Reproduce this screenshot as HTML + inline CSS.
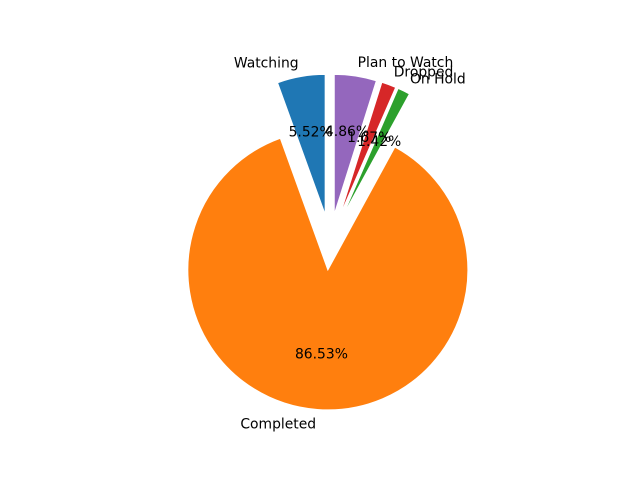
<!DOCTYPE html>
<html><head><meta charset="utf-8"><style>
html,body{margin:0;padding:0;background:#fff;}
svg text{font-family:"DejaVu Sans","Liberation Sans",sans-serif;font-size:13.9px;fill:#000;}
</style></head><body>
<svg id="chart" width="640" height="480" viewBox="0 0 640 480" xmlns="http://www.w3.org/2000/svg">
<rect width="640" height="480" fill="#fff"/>
</svg>
<script>
const categories = ["Watching", "Completed", "On Hold", "Dropped", "Plan to Watch"];
const values = [5.52, 86.53, 1.42, 1.67, 4.86];
const explode = [0.2, 0.2, 0.2, 0.2, 0.2];
const colors = ["#1f77b4", "#ff7f0e", "#2ca02c", "#d62728", "#9467bd"];

const svg = document.getElementById('chart');
const NS = 'http://www.w3.org/2000/svg';
const cx = 330, cy = 242, R = 140, startAngle = 90;
const total = values.reduce((a, b) => a + b, 0);
function pt(x, y, ang, r) {
  const a = ang * Math.PI / 180;
  return [x + r * Math.cos(a), y - r * Math.sin(a)];
}
let theta = startAngle;
const labelLayer = [];
values.forEach((v, i) => {
  const sweep = v / total * 360;
  const t1 = theta, t2 = theta + sweep, mid = (t1 + t2) / 2;
  const [ox, oy] = pt(cx, cy, mid, explode[i] * R);
  const [x1, y1] = pt(ox, oy, t1, R);
  const [x2, y2] = pt(ox, oy, t2, R);
  const large = sweep > 180 ? 1 : 0;
  const p = document.createElementNS(NS, 'path');
  p.setAttribute('d', `M${ox},${oy} L${x1},${y1} A${R},${R} 0 ${large} 0 ${x2},${y2} Z`);
  p.setAttribute('fill', colors[i]);
  p.setAttribute('stroke', '#fff');
  p.setAttribute('stroke-width', '1');
  
  
  svg.appendChild(p);
  const cosm = Math.cos(mid * Math.PI / 180);
  const [lx, ly] = pt(ox, oy, mid, 1.1 * R);
  const lab = document.createElementNS(NS, 'text');
  lab.setAttribute('x', lx);
  lab.setAttribute('y', ly + 4.8);
  lab.setAttribute('text-anchor', cosm > 0 ? 'start' : 'end');
  lab.textContent = categories[i];
  
  
  labelLayer.push(lab);
  const [px, py] = pt(ox, oy, mid, 0.6 * R);
  const pc = document.createElementNS(NS, 'text');
  pc.setAttribute('x', px);
  pc.setAttribute('y', py + 4.8);
  pc.setAttribute('text-anchor', 'middle');
  pc.textContent = v.toFixed(2) + '%';
  
  
  labelLayer.push(pc);
  theta = t2;
});
labelLayer.forEach(t => svg.appendChild(t));
</script>
</body></html>
